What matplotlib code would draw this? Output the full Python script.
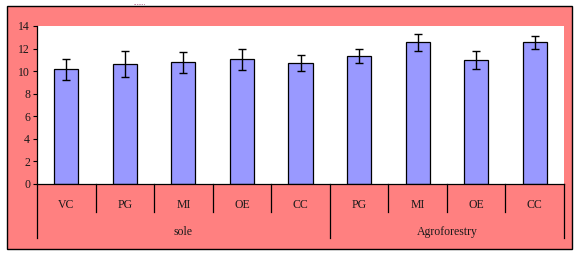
import matplotlib
matplotlib.use("Agg")
import matplotlib.pyplot as plt
from matplotlib.patches import Rectangle
import numpy as np

categories = ["VC", "PG", "MI", "OE", "CC", "PG", "MI", "OE", "CC"]
groups = ["sole", "Agroforestry"]
group_sizes = [5, 4]
values = [10.15, 10.6, 10.8, 11.05, 10.7, 11.3, 12.55, 10.95, 12.55]
errors = [0.97, 1.15, 0.93, 0.93, 0.7, 0.62, 0.75, 0.8, 0.55]
yticks = [0, 2, 4, 6, 8, 10, 12, 14]

W, H = 575, 254
fig = plt.figure(figsize=(W / 100, H / 100), dpi=100)
fig.patch.set_facecolor("white")
plt.rcParams["font.family"] = ["Liberation Serif", "DejaVu Serif"]

# outer pink chart area with black border
fig.patches.append(Rectangle((7 / W, 1 - 249 / H), (572 - 7) / W, (249 - 6) / H,
                             transform=fig.transFigure, facecolor="#FF8080",
                             edgecolor="black", linewidth=1.0, zorder=-5))

x0, x1, ytop, ybot = 37, 564, 26, 184
ax = fig.add_axes([x0 / W, 1 - ybot / H, (x1 - x0) / W, (ybot - ytop) / H])
ax.set_zorder(2)
ax.set_facecolor("white")
n = len(categories)
x = np.arange(n)
ax.bar(x, values, width=0.41, color="#9999FF", edgecolor="black", linewidth=0.9,
       yerr=errors, capsize=3, error_kw=dict(elinewidth=1, ecolor="black", capthick=1))
ax.set_xlim(-0.5, n - 0.5)
ax.set_ylim(0, 14)
ax.set_yticks(yticks)
ax.set_yticklabels([str(v) for v in yticks], fontsize=8.5, color="#1a1a1a")
ax.tick_params(axis="y", direction="out", length=3, width=0.8, pad=2)
ax.set_xticks([])
for s in ["top", "right"]:
    ax.spines[s].set_visible(False)
ax.spines["left"].set_linewidth(0.9)
ax.spines["bottom"].set_linewidth(0.9)

trans = ax.get_xaxis_transform()
px_per_ax = (ybot - ytop)
def yfrac(ypix):
    return (ybot - ypix) / px_per_ax

boundaries_group = [-0.5]
acc = -0.5
for g in group_sizes:
    acc += g
    boundaries_group.append(acc)
for b in np.arange(-0.5, n, 1.0):
    is_group = any(abs(b - gb) < 1e-6 for gb in boundaries_group)
    yend = yfrac(238) if is_group else yfrac(212)
    ax.plot([b, b], [0, yend], transform=trans, color="black", lw=0.9, clip_on=False)
for i, c in enumerate(categories):
    ax.text(i, yfrac(205), c, transform=trans, ha="center", va="center",
            fontsize=8.5, color="#1a1a1a")
start = -0.5
for g, size in zip(groups, group_sizes):
    ax.text(start + size / 2, yfrac(232), g, transform=trans, ha="center",
            va="center", fontsize=8.5, color="#1a1a1a")
    start += size

fig.text(140 / W, 1 - 1 / H, ".......", ha="center", va="top", fontsize=5,
         color="#800040")

fig.savefig("out.png", dpi=100)
